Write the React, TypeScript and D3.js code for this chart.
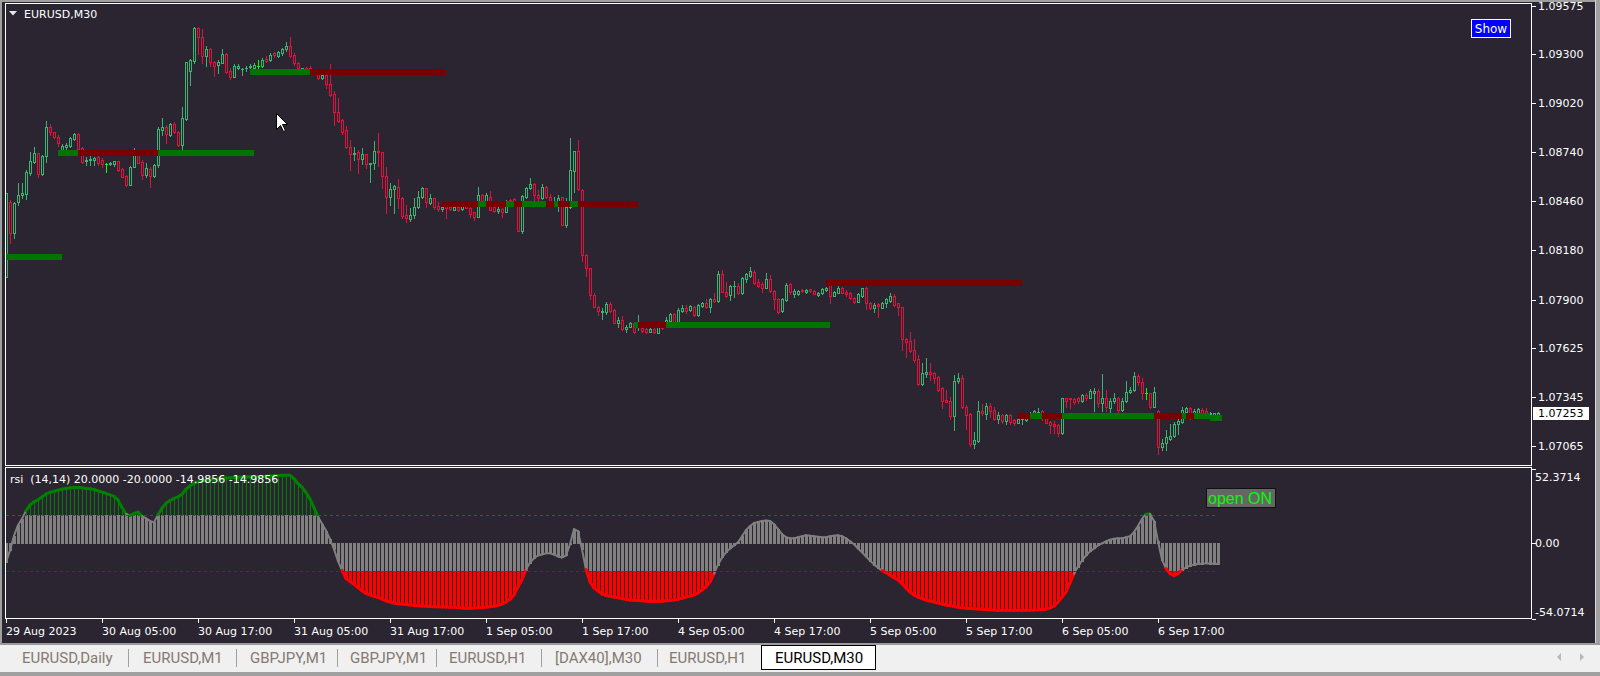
import React from "react";
import * as d3 from "d3";

// ---------- DATA ----------
const chartTitle = "EURUSD,M30";
const indicatorTitle = "rsi  (14,14) 20.0000 -20.0000 -14.9856 -14.9856";
const currentPrice = 1.07253;
const priceTicks = [1.09575, 1.093, 1.0902, 1.0874, 1.0846, 1.0818, 1.079, 1.07625, 1.07345, 1.07065];
const rsiTicks = [52.3714, 0, -54.0714];
const rsiTickLabels = ["52.3714", "0.00", "-54.0714"];
const rsiLevels = [20, -20];
const timeTickBars = [0, 24, 48, 72, 96, 120, 144, 168, 192, 216, 240, 264, 288];
const timeTickLabels = ["29 Aug 2023", "30 Aug 05:00", "30 Aug 17:00", "31 Aug 05:00", "31 Aug 17:00", "1 Sep 05:00", "1 Sep 17:00", "4 Sep 05:00", "4 Sep 17:00", "5 Sep 05:00", "5 Sep 17:00", "6 Sep 05:00", "6 Sep 17:00"];
const tabLabels = ["EURUSD,Daily", "EURUSD,M1", "GBPJPY,M1", "GBPJPY,M1", "EURUSD,H1", "[DAX40],M30", "EURUSD,H1", "EURUSD,M30"];
const activeTab = 7;
const limeBars = [25, 63, 285];

// [open, high, low, close] per M30 bar
const candles: number[][] = [
[1.08031,1.08506,1.08031,1.08506],[1.08458,1.08468,1.08225,1.08278],[1.08278,1.08458,1.08249,1.08453],[1.08458,1.08563,1.08439,1.08496],
[1.08496,1.08563,1.08477,1.08506],[1.08500,1.08639,1.08472,1.08626],[1.08624,1.08740,1.08610,1.08690],[1.08686,1.08772,1.08677,1.08734],
[1.08734,1.08738,1.08601,1.08616],[1.08616,1.08724,1.08610,1.08719],[1.08719,1.08918,1.08686,1.08882],[1.08882,1.08899,1.08838,1.08854],
[1.08854,1.08857,1.08820,1.08825],[1.08829,1.08838,1.08778,1.08791],[1.08753,1.08787,1.08747,1.08776],[1.08768,1.08795,1.08757,1.08781],
[1.08778,1.08829,1.08772,1.08820],[1.08816,1.08852,1.08810,1.08844],[1.08844,1.08848,1.08749,1.08759],[1.08762,1.08768,1.08681,1.08686],
[1.08692,1.08711,1.08667,1.08696],[1.08696,1.08719,1.08667,1.08700],[1.08696,1.08715,1.08667,1.08709],[1.08711,1.08719,1.08667,1.08681],
[1.08696,1.08705,1.08658,1.08673],[1.08671,1.08681,1.08629,1.08675],[1.08673,1.08685,1.08666,1.08681],[1.08673,1.08692,1.08662,1.08688],
[1.08688,1.08692,1.08635,1.08639],[1.08645,1.08648,1.08597,1.08601],[1.08607,1.08610,1.08548,1.08554],[1.08554,1.08662,1.08554,1.08658],
[1.08658,1.08762,1.08654,1.08724],[1.08724,1.08749,1.08677,1.08681],[1.08686,1.08696,1.08586,1.08610],[1.08610,1.08677,1.08601,1.08648],
[1.08645,1.08658,1.08544,1.08607],[1.08607,1.08673,1.08601,1.08667],[1.08667,1.08882,1.08658,1.08871],[1.08867,1.08933,1.08838,1.08886],
[1.08886,1.08895,1.08795,1.08842],[1.08838,1.08909,1.08833,1.08901],[1.08901,1.08914,1.08852,1.08857],[1.08857,1.08863,1.08776,1.08781],
[1.08781,1.09000,1.08753,1.08933],[1.08930,1.09256,1.08924,1.09256],[1.09205,1.09270,1.09123,1.09266],[1.09262,1.09456,1.09247,1.09448],
[1.09448,1.09452,1.09300,1.09395],[1.09395,1.09441,1.09251,1.09291],[1.09289,1.09346,1.09232,1.09327],[1.09327,1.09332,1.09232,1.09253],
[1.09256,1.09262,1.09177,1.09234],[1.09237,1.09266,1.09194,1.09256],[1.09251,1.09327,1.09247,1.09300],[1.09300,1.09304,1.09190,1.09196],
[1.09205,1.09218,1.09158,1.09167],[1.09171,1.09243,1.09167,1.09232],[1.09218,1.09243,1.09213,1.09234],[1.09213,1.09222,1.09180,1.09215],
[1.09218,1.09234,1.09205,1.09222],[1.09224,1.09241,1.09217,1.09232],[1.09222,1.09247,1.09213,1.09237],[1.09230,1.09266,1.09213,1.09234],
[1.09232,1.09275,1.09228,1.09266],[1.09270,1.09289,1.09253,1.09258],[1.09266,1.09304,1.09262,1.09296],[1.09304,1.09313,1.09285,1.09296],
[1.09291,1.09317,1.09285,1.09310],[1.09304,1.09336,1.09294,1.09329],[1.09327,1.09370,1.09319,1.09348],[1.09348,1.09395,1.09285,1.09291],
[1.09294,1.09304,1.09237,1.09247],[1.09251,1.09256,1.09209,1.09218],[1.09215,1.09222,1.09213,1.09218],[1.09222,1.09226,1.09212,1.09214],
[1.09222,1.09232,1.09199,1.09203],[1.09199,1.09210,1.09192,1.09206],[1.09190,1.09194,1.09160,1.09165],[1.09165,1.09182,1.09158,1.09180],
[1.09180,1.09196,1.09108,1.09127],[1.09127,1.09241,1.09063,1.09066],[1.09070,1.09089,1.08895,1.08968],[1.08968,1.09047,1.08914,1.08918],
[1.08924,1.08930,1.08846,1.08857],[1.08867,1.08890,1.08766,1.08772],[1.08772,1.08810,1.08639,1.08728],[1.08728,1.08768,1.08696,1.08738],
[1.08740,1.08753,1.08624,1.08700],[1.08700,1.08762,1.08673,1.08728],[1.08728,1.08728,1.08652,1.08671],[1.08671,1.08677,1.08572,1.08677],
[1.08677,1.08804,1.08645,1.08749],[1.08749,1.08848,1.08662,1.08740],[1.08740,1.08743,1.08538,1.08605],[1.08605,1.08654,1.08396,1.08487],
[1.08487,1.08563,1.08439,1.08529],[1.08529,1.08553,1.08396,1.08548],[1.08544,1.08588,1.08424,1.08477],[1.08477,1.08487,1.08363,1.08379],
[1.08382,1.08439,1.08344,1.08363],[1.08360,1.08420,1.08350,1.08382],[1.08382,1.08477,1.08363,1.08430],[1.08430,1.08519,1.08420,1.08483],
[1.08483,1.08544,1.08481,1.08538],[1.08534,1.08538,1.08430,1.08455],[1.08451,1.08500,1.08445,1.08477],[1.08477,1.08481,1.08417,1.08430],
[1.08434,1.08458,1.08407,1.08417],[1.08417,1.08443,1.08407,1.08430],[1.08443,1.08458,1.08367,1.08424],[1.08430,1.08436,1.08413,1.08415],
[1.08413,1.08432,1.08411,1.08430],[1.08430,1.08439,1.08407,1.08411],[1.08415,1.08453,1.08411,1.08445],[1.08443,1.08448,1.08424,1.08424],
[1.08420,1.08430,1.08373,1.08388],[1.08398,1.08401,1.08354,1.08373],[1.08373,1.08544,1.08369,1.08496],[1.08496,1.08500,1.08449,1.08458],
[1.08458,1.08506,1.08449,1.08496],[1.08487,1.08519,1.08409,1.08411],[1.08430,1.08439,1.08398,1.08405],[1.08405,1.08430,1.08396,1.08417],
[1.08417,1.08424,1.08373,1.08401],[1.08401,1.08468,1.08398,1.08464],[1.08468,1.08473,1.08449,1.08458],[1.08473,1.08481,1.08455,1.08460],
[1.08458,1.08462,1.08291,1.08293],[1.08293,1.08496,1.08282,1.08491],[1.08487,1.08544,1.08481,1.08538],[1.08534,1.08595,1.08531,1.08559],
[1.08557,1.08563,1.08468,1.08496],[1.08496,1.08525,1.08468,1.08481],[1.08481,1.08559,1.08474,1.08540],[1.08540,1.08548,1.08481,1.08487],
[1.08487,1.08500,1.08455,1.08462],[1.08460,1.08487,1.08439,1.08464],[1.08458,1.08496,1.08407,1.08481],[1.08483,1.08487,1.08324,1.08325],
[1.08325,1.08477,1.08316,1.08430],[1.08430,1.08823,1.08424,1.08639],[1.08635,1.08747,1.08512,1.08747],[1.08747,1.08810,1.08525,1.08529],
[1.08525,1.08529,1.08122,1.08154],[1.08154,1.08160,1.08036,1.08078],[1.08078,1.08082,1.07902,1.07926],[1.07926,1.07936,1.07860,1.07860],
[1.07860,1.07864,1.07812,1.07835],[1.07832,1.07850,1.07790,1.07835],[1.07831,1.07884,1.07816,1.07873],[1.07875,1.07888,1.07827,1.07835],
[1.07841,1.07845,1.07765,1.07769],[1.07769,1.07799,1.07746,1.07784],[1.07784,1.07807,1.07727,1.07733],[1.07731,1.07755,1.07717,1.07746],
[1.07746,1.07774,1.07742,1.07769],[1.07769,1.07774,1.07708,1.07717],[1.07750,1.07812,1.07727,1.07770],[1.07740,1.07745,1.07717,1.07720],
[1.07735,1.07740,1.07712,1.07716],[1.07718,1.07738,1.07714,1.07733],[1.07735,1.07740,1.07712,1.07714],[1.07712,1.07774,1.07712,1.07746],
[1.07746,1.07760,1.07735,1.07740],[1.07765,1.07799,1.07755,1.07784],[1.07780,1.07822,1.07774,1.07816],[1.07816,1.07822,1.07765,1.07769],
[1.07769,1.07850,1.07765,1.07841],[1.07837,1.07869,1.07831,1.07854],[1.07854,1.07869,1.07826,1.07837],[1.07841,1.07869,1.07837,1.07864],
[1.07860,1.07864,1.07809,1.07812],[1.07812,1.07873,1.07809,1.07869],[1.07864,1.07888,1.07856,1.07883],[1.07883,1.07902,1.07850,1.07860],
[1.07860,1.07907,1.07831,1.07904],[1.07904,1.07936,1.07888,1.07892],[1.07892,1.08063,1.07886,1.08046],[1.08046,1.08069,1.07941,1.07945],
[1.07945,1.08002,1.07917,1.07923],[1.07926,1.07983,1.07898,1.07980],[1.07975,1.08006,1.07917,1.07980],[1.07980,1.07997,1.07932,1.07936],
[1.07936,1.08031,1.07932,1.08025],[1.08019,1.08050,1.08002,1.08044],[1.08036,1.08088,1.08031,1.08065],[1.08059,1.08069,1.07989,1.07993],
[1.07999,1.08016,1.07974,1.07978],[1.07987,1.08002,1.07941,1.07968],[1.07968,1.08050,1.07964,1.08016],[1.08016,1.08040,1.07945,1.07949],
[1.07951,1.07955,1.07845,1.07902],[1.07904,1.07907,1.07822,1.07831],[1.07835,1.07907,1.07831,1.07902],[1.07898,1.07993,1.07894,1.07983],
[1.07987,1.07997,1.07932,1.07941],[1.07930,1.07959,1.07917,1.07949],[1.07932,1.07955,1.07926,1.07949],[1.07955,1.07961,1.07945,1.07951],
[1.07945,1.07961,1.07936,1.07955],[1.07958,1.07961,1.07945,1.07949],[1.07949,1.07955,1.07930,1.07930],[1.07926,1.07944,1.07920,1.07940],
[1.07936,1.07964,1.07932,1.07959],[1.07955,1.07972,1.07951,1.07968],[1.07993,1.07997,1.07883,1.07923],[1.07923,1.07951,1.07921,1.07945],
[1.07940,1.07980,1.07936,1.07968],[1.07968,1.07970,1.07936,1.07940],[1.07945,1.07955,1.07923,1.07932],[1.07936,1.07945,1.07904,1.07907],
[1.07911,1.07917,1.07883,1.07885],[1.07889,1.07936,1.07885,1.07930],[1.07923,1.07968,1.07917,1.07964],[1.07964,1.07974,1.07846,1.07879],
[1.07883,1.07888,1.07845,1.07850],[1.07854,1.07879,1.07831,1.07869],[1.07875,1.07879,1.07803,1.07866],[1.07854,1.07888,1.07850,1.07883],
[1.07879,1.07907,1.07860,1.07904],[1.07894,1.07936,1.07888,1.07921],[1.07921,1.07930,1.07864,1.07869],[1.07879,1.07883,1.07812,1.07856],
[1.07856,1.07860,1.07613,1.07674],[1.07676,1.07683,1.07575,1.07660],[1.07666,1.07717,1.07600,1.07607],[1.07613,1.07674,1.07543,1.07556],
[1.07560,1.07584,1.07413,1.07417],[1.07417,1.07537,1.07413,1.07480],[1.07474,1.07565,1.07461,1.07486],[1.07486,1.07537,1.07442,1.07476],
[1.07484,1.07489,1.07427,1.07455],[1.07461,1.07465,1.07381,1.07385],[1.07394,1.07400,1.07284,1.07324],[1.07328,1.07385,1.07314,1.07318],
[1.07322,1.07347,1.07219,1.07239],[1.07239,1.07470,1.07157,1.07436],[1.07436,1.07480,1.07423,1.07455],[1.07451,1.07470,1.07280,1.07286],
[1.07290,1.07299,1.07162,1.07242],[1.07248,1.07252,1.07067,1.07075],[1.07075,1.07143,1.07056,1.07100],[1.07094,1.07322,1.07086,1.07265],
[1.07267,1.07303,1.07242,1.07252],[1.07248,1.07309,1.07219,1.07294],[1.07294,1.07313,1.07233,1.07267],[1.07271,1.07290,1.07214,1.07220],
[1.07220,1.07261,1.07195,1.07242],[1.07242,1.07248,1.07195,1.07210],[1.07210,1.07248,1.07191,1.07242],[1.07242,1.07248,1.07191,1.07204],
[1.07214,1.07217,1.07185,1.07195],[1.07199,1.07229,1.07195,1.07220],[1.07220,1.07235,1.07191,1.07225],[1.07214,1.07240,1.07208,1.07229],
[1.07229,1.07260,1.07225,1.07248],[1.07248,1.07271,1.07242,1.07265],[1.07252,1.07284,1.07238,1.07261],[1.07265,1.07271,1.07214,1.07223],
[1.07223,1.07233,1.07195,1.07199],[1.07204,1.07210,1.07138,1.07185],[1.07191,1.07210,1.07138,1.07180],[1.07185,1.07191,1.07124,1.07138],
[1.07138,1.07341,1.07134,1.07337],[1.07337,1.07341,1.07286,1.07322],[1.07337,1.07341,1.07284,1.07331],[1.07331,1.07341,1.07305,1.07318],
[1.07337,1.07347,1.07309,1.07324],[1.07322,1.07360,1.07314,1.07356],[1.07356,1.07366,1.07328,1.07341],[1.07341,1.07389,1.07337,1.07381],
[1.07370,1.07394,1.07267,1.07381],[1.07381,1.07389,1.07286,1.07309],[1.07309,1.07476,1.07267,1.07337],[1.07337,1.07385,1.07267,1.07286],
[1.07284,1.07341,1.07261,1.07322],[1.07322,1.07370,1.07309,1.07337],[1.07341,1.07347,1.07261,1.07271],[1.07271,1.07337,1.07267,1.07322],
[1.07322,1.07436,1.07314,1.07372],[1.07372,1.07404,1.07366,1.07385],[1.07385,1.07489,1.07381,1.07465],[1.07465,1.07474,1.07413,1.07432],
[1.07432,1.07451,1.07333,1.07366],[1.07366,1.07394,1.07333,1.07368],[1.07366,1.07370,1.07284,1.07290],[1.07290,1.07400,1.07286,1.07372],
[1.07267,1.07271,1.07020,1.07058],[1.07058,1.07104,1.07043,1.07081],[1.07081,1.07157,1.07043,1.07119],[1.07104,1.07191,1.07100,1.07123],
[1.07123,1.07204,1.07119,1.07191],[1.07189,1.07233,1.07134,1.07208],[1.07204,1.07290,1.07195,1.07271],[1.07261,1.07290,1.07252,1.07280],
[1.07280,1.07290,1.07218,1.07252],[1.07252,1.07275,1.07240,1.07265],[1.07256,1.07280,1.07250,1.07275],[1.07271,1.07280,1.07250,1.07252],
[1.07265,1.07280,1.07248,1.07252],[1.07248,1.07260,1.07240,1.07256],[1.07244,1.07256,1.07240,1.07252],[1.07242,1.07261,1.07240,1.07253],
];

// RSI-style oscillator value per bar
const rsiValues = [
-13.7,-5.4,5,12.5,17,22.8,26.8,29,30.5,32.5,34.5,35.8,36.6,37.4,38,38.5,39,39.2,39.2,39,
38.5,38.3,37.8,36.8,36,35,34,33,30.5,25,20.5,19.5,20.8,21.8,19,17.3,15.5,14.5,20,24.5,
28,30,31.5,32.5,34.5,38,40.5,42,43.2,43.8,44.4,44.8,45.1,45.4,45.8,46,46.2,46.4,46.6,46.7,
46.7,46.8,46.8,46.9,47,47.2,47.4,47.6,47.8,47.9,47.9,47.9,45.5,42,39.5,35.7,31,25,18.5,13.5,
8.7,2.5,-4.5,-13,-19.5,-25.4,-27.5,-29.5,-31.8,-34,-36,-37,-38,-38.8,-40,-41.2,-42,-42.8,-43.2,-43.5,
-43.8,-44.1,-44.4,-44.6,-44.8,-45,-45.2,-45.3,-45.4,-45.5,-45.6,-45.7,-45.8,-46,-46.2,-46.4,-46.4,-46.3,-46.1,-45.9,
-45.7,-45.4,-45,-44.3,-43.5,-42,-40,-37,-31.3,-26,-19,-14,-11,-9,-8.3,-7.5,-7.5,-8.3,-9.7,-10.4,
-9,-1,9.7,8.3,-4.7,-19,-27.7,-32,-34.2,-36.3,-37.4,-38,-38.5,-39,-39.6,-40.1,-40.6,-40.8,-41,-41.2,
-41.4,-41.4,-41.4,-41.4,-41.4,-41.2,-41,-40.5,-40,-39.3,-38.5,-37.8,-37,-35.6,-33.5,-31.3,-27.7,-21.9,-15.5,-10.4,
-6.8,-4,-1.8,0.4,4.7,9,11.9,14,14.7,15.5,15.8,15.5,13.3,9.7,6.1,4,3.2,3.2,4,4.7,
5.4,5,4.7,4.3,4,4,4.7,5,5.4,4.7,3.2,1,-1,-4,-6.8,-9.7,-12.6,-15.5,-17.6,-19.8,
-21.2,-23,-24.8,-26.3,-29,-32,-34.9,-37,-38.5,-39.6,-40.6,-41.3,-42,-42.8,-43.5,-44.1,-44.6,-45.2,-45.7,-46,
-46.4,-46.6,-46.8,-47,-47.1,-47.3,-47.5,-47.7,-47.8,-47.8,-47.8,-47.8,-47.8,-47.8,-47.8,-47.8,-47.8,-47.6,-47.5,-47.3,
-47.1,-46.2,-45,-42,-38.5,-34.9,-28.4,-21.9,-16.9,-12.6,-9,-6.1,-4,-1.8,-0.4,1,2.2,2.9,3.2,3.2,
4,4.7,7.6,11.9,16.9,20.5,20.5,15.5,1,-11.9,-18.3,-21.9,-23.4,-21.9,-19,-17.6,-16.2,-15.5,-15,-14.8,
-14.6,-14.7,-14.9,-14.9856,
];

// support/resistance segments: [fromBar, toBar, price, side]
const levelSegments: [number, number, number, string][] = [
[0, 14, 1.08145, "buy"],
[13, 18, 1.08737, "buy"], [18, 38, 1.08737, "sell"], [38, 62, 1.08737, "buy"],
[61, 76, 1.09199, "buy"], [76, 110, 1.09199, "sell"],
[109, 118, 1.08446, "sell"], [118, 120, 1.08446, "buy"], [120, 125, 1.08446, "sell"], [125, 127, 1.08446, "buy"],
[127, 129, 1.08446, "sell"], [129, 135, 1.08446, "buy"], [135, 137, 1.08446, "sell"], [137, 138, 1.08446, "buy"],
[138, 141, 1.08446, "sell"], [141, 143, 1.08446, "buy"], [143, 158, 1.08446, "sell"],
[157, 158, 1.07757, "buy"], [158, 165, 1.07757, "sell"], [165, 206, 1.07757, "buy"],
[205, 254, 1.07996, "sell"],
[253, 256, 1.07236, "sell"], [256, 259, 1.07236, "buy"], [259, 264, 1.07236, "sell"], [264, 287, 1.07236, "buy"],
[287, 294, 1.07236, "sell"], [294, 295, 1.07236, "buy"], [295, 297, 1.07236, "sell"], [297, 301, 1.07236, "buy"],
[301, 304, 1.07225, "buy"],
];

// ---------- STYLE ----------
const BG = "#2a2530";
const FG = "#ffffff";
const BULL = "#3cb371";
const BEAR = "#dc143c";
const LIME = "#00ff00";
const BUY_LVL = "#007400";
const SELL_LVL = "#780000";
const AXIS_FONT = "'DejaVu Sans', sans-serif";
const tabTextX = [22, 143, 250, 350, 449, 555, 669, 775];
const tabSeparators = [128, 236, 337, 436, 541, 657];

export default function App() {
  const N = candles.length;
  const x = d3.scaleLinear().domain([0, N - 1]).range([6, 6 + 4 * (N - 1)]);
  const yP = d3.scaleLinear().domain([1.06957, 1.09585]).range([465, 4]);
  const yR = d3.scaleLinear().domain([-54.0714, 52.3714]).range([619, 469]);
  const r = Math.round;

  const candleEls: React.ReactNode[] = [];
  candles.forEach((d, i) => {
    const [o, h, l, c] = d;
    const cx = r(x(i));
    const col = limeBars.includes(i) ? LIME : c >= o ? BULL : BEAR;
    const yH = r(yP(h)), yL = r(yP(l));
    const yO = r(yP(o)), yC = r(yP(c));
    const top = Math.min(yO, yC), bot = Math.max(yO, yC);
    candleEls.push(<rect key={"w" + i} x={cx} y={yH} width={1} height={yL - yH + 1} fill={col} />);
    if (limeBars.includes(i)) {
      candleEls.push(<rect key={"b" + i} x={cx - 1} y={top} width={3} height={1} fill={col} />);
      return;
    }
    candleEls.push(<rect key={"b" + i} x={cx - 1} y={top} width={3} height={bot - top + 1} fill={col} />);
    if (bot - top >= 2) candleEls.push(<rect key={"f" + i} x={cx} y={top + 1} width={1} height={bot - top - 1} fill={BG} />);
  });

  const levelEls = levelSegments.map(([a, b, p, side], k) => {
    const yc = yP(p);
    return <rect key={"l" + k} x={r(x(a))} y={r(yc - 3)} width={r(x(b)) - r(x(a))} height={6} fill={side === "buy" ? BUY_LVL : SELL_LVL} />;
  });

  // oscillator
  const y0 = r(yR(0));
  const histEls: React.ReactNode[] = [];
  rsiValues.forEach((v, i) => {
    const cx = r(x(i));
    const g = Math.max(-20, Math.min(20, v));
    const yg = r(yR(g));
    histEls.push(<rect key={"g" + i} x={cx - 1} y={Math.min(y0, yg)} width={3} height={Math.abs(yg - y0) + 1} fill="#808080" />);
    if (v > 20) {
      const y1 = r(yR(v)), y2 = r(yR(20));
      histEls.push(<rect key={"u" + i} x={cx} y={y1} width={1} height={y2 - y1} fill="#008000" />);
    } else if (v < -20) {
      const y1 = r(yR(-20)), y2 = r(yR(v));
      histEls.push(<rect key={"d" + i} x={cx - 1} y={y1} width={3} height={y2 - y1} fill="#ff0000" />);
    }
  });
  const lineSegs: React.ReactNode[] = [];
  for (let i = 1; i < rsiValues.length; i++) {
    const a = rsiValues[i - 1], b = rsiValues[i];
    const m = (a + b) / 2;
    const col = m > 20 ? "#008000" : m < -20 ? "#ff0000" : "#808080";
    const w = m > 20 || m < -20 ? 3 : 2;
    lineSegs.push(<line key={"s" + i} x1={x(i - 1)} y1={yR(a)} x2={x(i)} y2={yR(b)} stroke={col} strokeWidth={w} strokeLinecap="round" />);
  }

  const lastX = x(N - 1);

  return (
    <svg width={1600} height={676} style={{ position: "absolute", left: 0, top: 0, display: "block" }} fontFamily={AXIS_FONT}>
      {/* window chrome */}
      <rect x={0} y={0} width={1600} height={676} fill="#a0a0a0" />
      <rect x={2} y={2} width={1593} height={641} fill={BG} />
      <rect x={0} y={643} width={1600} height={2} fill="#9a9a9a" />
      <rect x={0} y={645} width={1600} height={27} fill="#f0f0f0" />
      <rect x={0} y={672} width={1600} height={4} fill="#a0a0a0" />
      <rect x={1595} y={0} width={1} height={643} fill="#d8d8d8" />

      {/* main panel */}
      <g shapeRendering="crispEdges">
        {candleEls}
        {levelEls}
        <rect x={5.5} y={3.5} width={1526} height={462} fill="none" stroke={FG} strokeWidth={1} />
        {priceTicks.map((p, k) => (
          <rect key={"pt" + k} x={1532} y={r(yP(p))} width={4} height={1} fill={FG} />
        ))}
      </g>
      {priceTicks.map((p, k) => (
        <text key={"pl" + k} x={1538} y={yP(p) + 4} fontSize={11} fill={FG}>{p.toFixed(5)}</text>
      ))}
      <rect x={1533} y={407} width={56} height={13} fill="#ffffff" shapeRendering="crispEdges" />
      <text x={1538} y={yP(currentPrice) + 4} fontSize={11} fill="#000000">{currentPrice.toFixed(5)}</text>

      {/* title */}
      <polygon points="9,11 17,11 13,15.5" fill="#e8e8e8" />
      <text x={24} y={17.5} fontSize={11} fill={FG}>{chartTitle}</text>

      {/* Show button */}
      <rect x={1471.5} y={19.5} width={39} height={18} fill="#0000ff" stroke="#ffffff" strokeWidth={1} shapeRendering="crispEdges" />
      <text x={1491} y={33} fontSize={12} fill="#ffffff" textAnchor="middle">Show</text>

      {/* mouse cursor */}
      <path d="M276.5,113.5 L276.5,129.5 L280.5,125.5 L283.5,131.5 L285.5,130.5 L282.5,124.5 L287.5,124.5 Z" fill="#ffffff" stroke="#000000" strokeWidth={1} />

      {/* oscillator panel */}
      <g shapeRendering="crispEdges">
        {histEls}
      </g>
      <g>{lineSegs}</g>
      {rsiLevels.map((lv, k) => (
        <line key={"lv" + k} x1={6} x2={lastX} y1={r(yR(lv)) + 0.5} y2={r(yR(lv)) + 0.5} stroke={lv > 0 ? "#008000" : "#c00000"} strokeWidth={1} strokeDasharray="3,3" shapeRendering="crispEdges" />
      ))}
      <g shapeRendering="crispEdges">
        <rect x={5.5} y={467.5} width={1526} height={151} fill="none" stroke={FG} strokeWidth={1} />
        {rsiTicks.map((v, k) => (
          <rect key={"rt" + k} x={1532} y={r(yR(v))} width={4} height={1} fill={FG} />
        ))}
        {timeTickBars.map((b, k) => (
          <rect key={"tt" + k} x={r(x(b))} y={619} width={1} height={4} fill={FG} />
        ))}
      </g>
      <text x={10} y={483} fontSize={11} fill={FG} style={{ whiteSpace: "pre" }}>{indicatorTitle}</text>
      {rsiTicks.map((v, k) => (
        <text key={"rl" + k} x={1535} y={k === 0 ? yR(v) + 12 : k === 2 ? yR(v) - 3 : yR(v) + 4} fontSize={11} fill={FG}>{rsiTickLabels[k]}</text>
      ))}
      {timeTickBars.map((b, k) => (
        <text key={"tl" + k} x={r(x(b))} y={635} fontSize={11} fill={FG}>{timeTickLabels[k]}</text>
      ))}

      {/* open ON box */}
      <rect x={1206.5} y={488.5} width={69} height={19} fill="#666666" stroke="#111111" strokeWidth={1} shapeRendering="crispEdges" />
      <text x={1208} y={504} fontSize={16} fill="#00ff00" fontFamily="'Liberation Sans', Arial, sans-serif">open ON</text>

      {/* tabs */}
      {tabSeparators.map((sx, k) => (
        <rect key={"sep" + k} x={sx} y={649} width={1} height={18} fill="#a0a0a0" />
      ))}
      <rect x={761.5} y={645.5} width={114} height={24} fill="#ffffff" stroke="#000000" strokeWidth={1} shapeRendering="crispEdges" />
      {tabLabels.map((t, k) => (
        <text key={"tab" + k} x={tabTextX[k]} y={663} fontSize={15} fontFamily="Roboto, sans-serif" fill={k === activeTab ? "#000000" : "#857a70"}>{t}</text>
      ))}
      <polygon points="1561,653 1561,661 1557,657" fill="#b8b8b8" />
      <polygon points="1580,653 1580,661 1584,657" fill="#b8b8b8" />
    </svg>
  );
}
